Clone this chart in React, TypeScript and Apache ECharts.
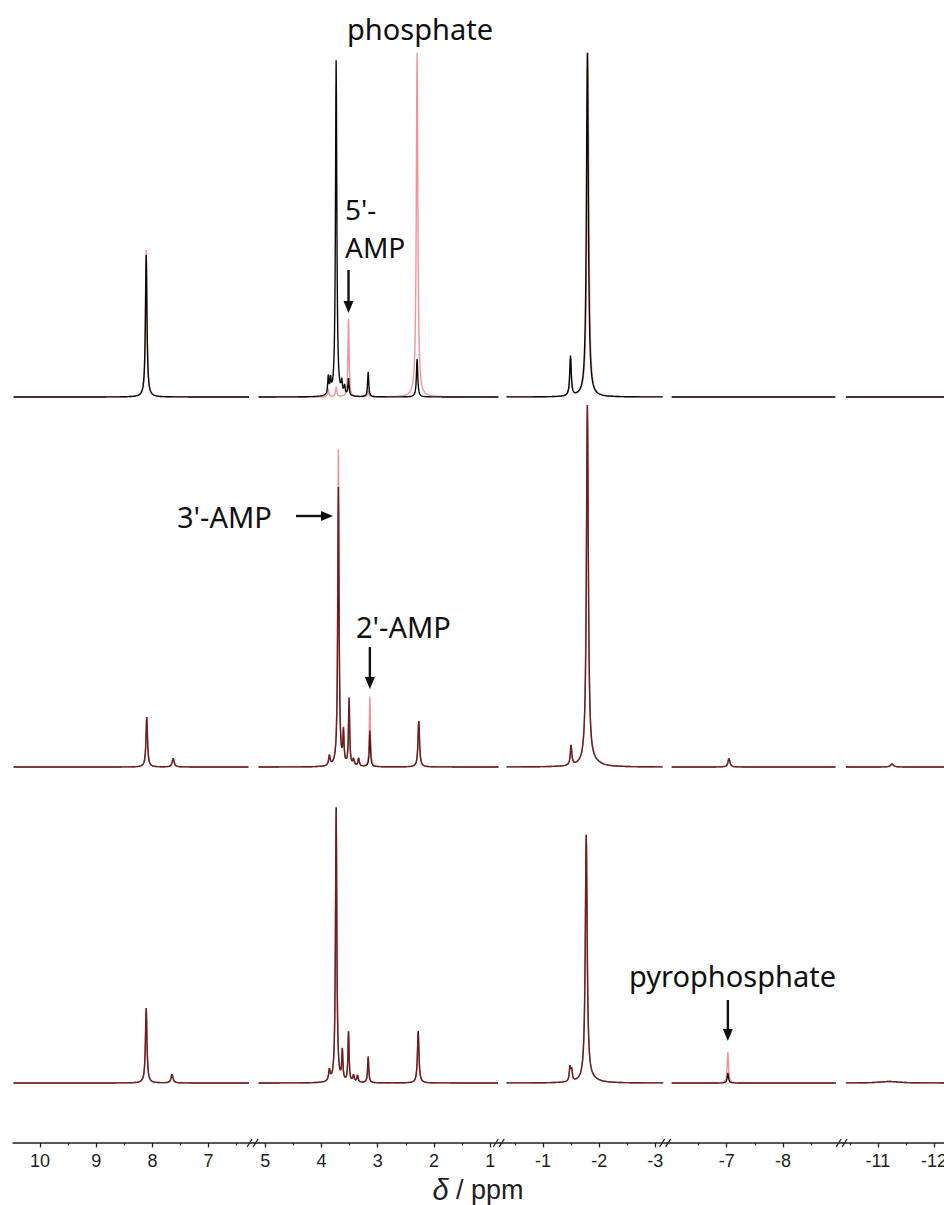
import React, { useEffect, useRef } from "react";
import * as echarts from "echarts";

// ---------- data ----------
// axis segments of the broken chemical-shift axis (ppm, high -> low)
const SEG_AXIS_FROM = [10.48, 5.2, -0.24, -5.93, -10.38];
const SEG_AXIS_TO = [6.19, 0.82, -3.2, -9.07, -12.2];
// ranges actually covered by the recorded traces
const SEG_TRACE_FROM = [10.47, 5.12, -0.35, -6.02, -10.43];
const SEG_TRACE_TO = [6.28, 0.85, -3.14, -8.94, -12.2];
// tick labels
const MAJOR_TICKS = [[10, 9, 8, 7], [5, 4, 3, 2, 1], [-1, -2, -3], [-7, -8], [-11, -12]];
const MINOR_TICKS = [[9.5, 8.5, 7.5, 6.5], [4.5, 3.5, 2.5, 1.5], [-0.5, -1.5, -2.5], [-6.5, -7.5, -8.5], [-10.5, -11.5]];

// peak lists: [shift ppm, intensity, half-width ppm]
const TOP_BLACK = [
  [8.11, 142, 0.016], [3.88, 18, 0.012], [3.84, 14, 0.012], [3.74, 336, 0.014],
  [3.64, 12, 0.012], [3.59, 9, 0.012], [3.52, 17, 0.012], [3.17, 25, 0.012],
  [2.3, 38, 0.014], [-1.49, 40, 0.016], [-1.79, 344, 0.02],
];
const TOP_RED = [
  [8.11, 147, 0.016], [3.88, 8, 0.012], [3.74, 10, 0.014], [3.52, 78, 0.012],
  [3.17, 6, 0.012], [2.3, 344, 0.016], [-1.49, 38, 0.016], [-1.8, 344, 0.02],
];
const MID_BLACK = [
  [8.1, 50, 0.016], [7.63, 9, 0.02], [3.86, 10, 0.016], [3.7, 279, 0.014],
  [3.61, 32, 0.012], [3.51, 67, 0.012], [3.43, 7, 0.014], [3.34, 8, 0.014],
  [3.14, 36, 0.012], [2.27, 46, 0.016], [-1.5, 20, 0.016], [-1.79, 359, 0.02],
  [-1.88, 4, 0.15], [-7.04, 9, 0.02], [-11.25, 3, 0.03],
];
const MID_RED = [
  [8.1, 50, 0.016], [7.63, 9, 0.02], [3.86, 10, 0.016], [3.7, 317, 0.014],
  [3.61, 32, 0.012], [3.51, 67, 0.012], [3.43, 7, 0.014], [3.34, 8, 0.014],
  [3.14, 70, 0.012], [2.27, 46, 0.016], [-1.5, 20, 0.016], [-1.79, 359, 0.02],
  [-1.88, 4, 0.15], [-7.04, 9, 0.02], [-11.25, 3, 0.03],
];
const BOT_BLACK = [
  [8.11, 75, 0.016], [7.65, 9, 0.02], [3.86, 11, 0.016], [3.74, 275, 0.014],
  [3.63, 30, 0.012], [3.52, 50, 0.012], [3.43, 7, 0.014], [3.36, 7, 0.014],
  [3.17, 26, 0.012], [2.28, 52, 0.016], [-1.48, 14, 0.014], [-1.51, 12, 0.014],
  [-1.77, 246, 0.02], [-1.86, 3, 0.15], [-7.02, 10, 0.014], [-11.2, 1.5, 0.2],
];
const BOT_RED = [
  [8.11, 75, 0.016], [7.65, 9, 0.02], [3.86, 11, 0.016], [3.74, 271, 0.014],
  [3.63, 30, 0.012], [3.52, 50, 0.012], [3.43, 7, 0.014], [3.36, 7, 0.014],
  [3.17, 26, 0.012], [2.28, 49, 0.016], [-1.48, 14, 0.014], [-1.51, 12, 0.014],
  [-1.77, 246, 0.02], [-1.86, 3, 0.15], [-7.02, 31, 0.014], [-11.2, 1.5, 0.2],
];

// ---------- layout ----------
const W = 944;
const H = 1205;
const PX_PER_PPM = 56.2;
const AXIS_LEFT = 13;
const AXIS_Y = 1143;
// vertical offset of each stacked spectrum (px above the axis line)
const OFFSET_TOP = 746;
const OFFSET_MID = 376;
const OFFSET_BOT = 60;

const BLACK = "#0a0a0a";
const RED = "rgba(226,44,44,0.5)";

const segLeft: number[] = [];
const segWidth: number[] = [];
{
  let x = AXIS_LEFT;
  for (let i = 0; i < SEG_AXIS_FROM.length; i++) {
    const w = (SEG_AXIS_FROM[i] - SEG_AXIS_TO[i]) * PX_PER_PPM;
    segLeft.push(x);
    segWidth.push(w);
    x += w;
  }
}

function ppmToX(ppm: number): number {
  for (let i = 0; i < SEG_AXIS_FROM.length; i++) {
    if (ppm <= SEG_AXIS_FROM[i] && ppm >= SEG_AXIS_TO[i]) {
      return segLeft[i] + (SEG_AXIS_FROM[i] - ppm) * PX_PER_PPM;
    }
  }
  return 0;
}

function trace(peaks: number[][], offset: number, from: number, to: number) {
  const step = 0.005;
  const a = Math.round(from / step);
  const b = Math.round(to / step);
  const pts: number[][] = [];
  for (let k = a; k >= b; k--) {
    const x = k * step;
    let y = offset;
    for (const p of peaks) {
      const d = (x - p[0]) / p[2];
      y += p[1] / (1 + d * d);
    }
    pts.push([+x.toFixed(4), +y.toFixed(2)]);
  }
  return pts;
}

function arrowDown(x: number, y1: number, y2: number) {
  return [
    { type: "line", z: 10, shape: { x1: x, y1, x2: x, y2: y2 - 8 }, style: { stroke: "#111", lineWidth: 2.4 } },
    { type: "polygon", z: 10, shape: { points: [[x - 5, y2 - 12], [x + 5, y2 - 12], [x, y2]] }, style: { fill: "#111" } },
  ];
}
function arrowRight(x1: number, x2: number, y: number) {
  return [
    { type: "line", z: 10, shape: { x1, y1: y, x2: x2 - 8, y2: y }, style: { stroke: "#111", lineWidth: 2.4 } },
    { type: "polygon", z: 10, shape: { points: [[x2 - 12, y - 5], [x2 - 12, y + 5], [x2, y]] }, style: { fill: "#111" } },
  ];
}

const LABEL_FONT = '"Noto Sans", sans-serif';

function buildOption() {
  const grids: any[] = [];
  const xAxes: any[] = [];
  const yAxes: any[] = [];
  const series: any[] = [];
  const spectra = [
    { peaks: TOP_BLACK, off: OFFSET_TOP, color: BLACK, z: 3 },
    { peaks: TOP_RED, off: OFFSET_TOP, color: RED, z: 2 },
    { peaks: MID_BLACK, off: OFFSET_MID, color: BLACK, z: 2 },
    { peaks: MID_RED, off: OFFSET_MID, color: RED, z: 3 },
    { peaks: BOT_BLACK, off: OFFSET_BOT, color: BLACK, z: 2 },
    { peaks: BOT_RED, off: OFFSET_BOT, color: RED, z: 3 },
  ];
  for (let i = 0; i < SEG_AXIS_FROM.length; i++) {
    grids.push({ left: segLeft[i], width: segWidth[i], top: 0, height: AXIS_Y, outerBoundsMode: "none", containLabel: false });
    xAxes.push({
      type: "value", gridIndex: i, position: "bottom", inverse: true,
      min: SEG_AXIS_TO[i], max: SEG_AXIS_FROM[i],
      axisLine: { show: true, onZero: false, lineStyle: { color: "#222", width: 1.5 } },
      axisTick: { show: true, inside: false, length: 4.5, customValues: MAJOR_TICKS[i], lineStyle: { color: "#222", width: 1.3 } },
      axisLabel: {
        show: true, customValues: MAJOR_TICKS[i], margin: 9, color: "#222",
        fontSize: 18, fontFamily: '"Liberation Sans", Arial, sans-serif',
        formatter: (v: number) => String(Math.round(v)),
      },
      splitLine: { show: false },
    });
    xAxes.push({
      type: "value", gridIndex: i, position: "bottom", offset: 0, inverse: true,
      min: SEG_AXIS_TO[i], max: SEG_AXIS_FROM[i],
      axisLine: { show: false, onZero: false },
      axisTick: { show: true, inside: false, length: 2.5, customValues: MINOR_TICKS[i], lineStyle: { color: "#222", width: 1.2 } },
      axisLabel: { show: false },
      splitLine: { show: false },
    });
    yAxes.push({ type: "value", gridIndex: i, min: 0, max: AXIS_Y, show: false });
    spectra.forEach((s) => {
      series.push({
        type: "line", xAxisIndex: i * 2, yAxisIndex: i,
        data: trace(s.peaks, s.off, SEG_TRACE_FROM[i], SEG_TRACE_TO[i]),
        showSymbol: false, symbol: "none", silent: true, clip: false,
        lineStyle: { color: s.color, width: 1.4 },
        z: s.z,
      });
    });
  }

  const graphic: any[] = [];
  // break marks on the axis
  for (let i = 1; i < segLeft.length; i++) {
    const xb = segLeft[i];
    graphic.push(
      { type: "line", shape: { x1: xb - 7, y1: AXIS_Y + 4, x2: xb - 2, y2: AXIS_Y - 4 }, style: { stroke: "#222", lineWidth: 1.3 } },
      { type: "line", shape: { x1: xb - 1, y1: AXIS_Y + 4, x2: xb + 4, y2: AXIS_Y - 4 }, style: { stroke: "#222", lineWidth: 1.3 } },
    );
  }
  const txt = (text: string, x: number, y: number, size = 29) => ({
    type: "text", x, y, z: 10,
    style: { text, fontSize: size, lineHeight: size, fontFamily: LABEL_FONT, fill: "#111", textAlign: "left", textVerticalAlign: "middle" },
  });
  graphic.push(txt("phosphate", 347, 28));
  graphic.push(txt("5'-", 345, 209, 28));
  graphic.push(txt("AMP", 345, 247, 28));
  graphic.push(...arrowDown(ppmToX(3.52), 270, 313));
  graphic.push(txt("3'-AMP", 177, 516));
  graphic.push(...arrowRight(296, 333, 516));
  graphic.push(txt("2'-AMP", 356, 626));
  graphic.push(...arrowDown(ppmToX(3.14), 647, 689));
  graphic.push(txt("pyrophosphate", 629, 975));
  graphic.push(...arrowDown(ppmToX(-7.02), 1000, 1041));
  graphic.push({
    type: "text", x: 478, y: 1190, z: 10,
    style: {
      text: "{i|δ} / ppm", fontSize: 27, fontFamily: '"Liberation Sans", Arial, sans-serif', fill: "#222",
      textAlign: "center", textVerticalAlign: "middle",
      rich: { i: { fontStyle: "italic", fontSize: 29, fontFamily: '"Liberation Sans", Arial, sans-serif', fill: "#222" } },
    },
  });

  return {
    animation: false,
    backgroundColor: "#ffffff",
    grid: grids,
    xAxis: xAxes,
    yAxis: yAxes,
    series,
    graphic,
  };
}

export default function App() {
  const ref = useRef<HTMLDivElement>(null);
  useEffect(() => {
    if (!ref.current) return;
    const chart = echarts.init(ref.current, undefined, { renderer: "svg", width: W, height: H });
    chart.setOption(buildOption() as any);
    return () => chart.dispose();
  }, []);
  return <div ref={ref} style={{ position: "absolute", left: 0, top: 0, width: W, height: H, background: "#fff" }} />;
}
